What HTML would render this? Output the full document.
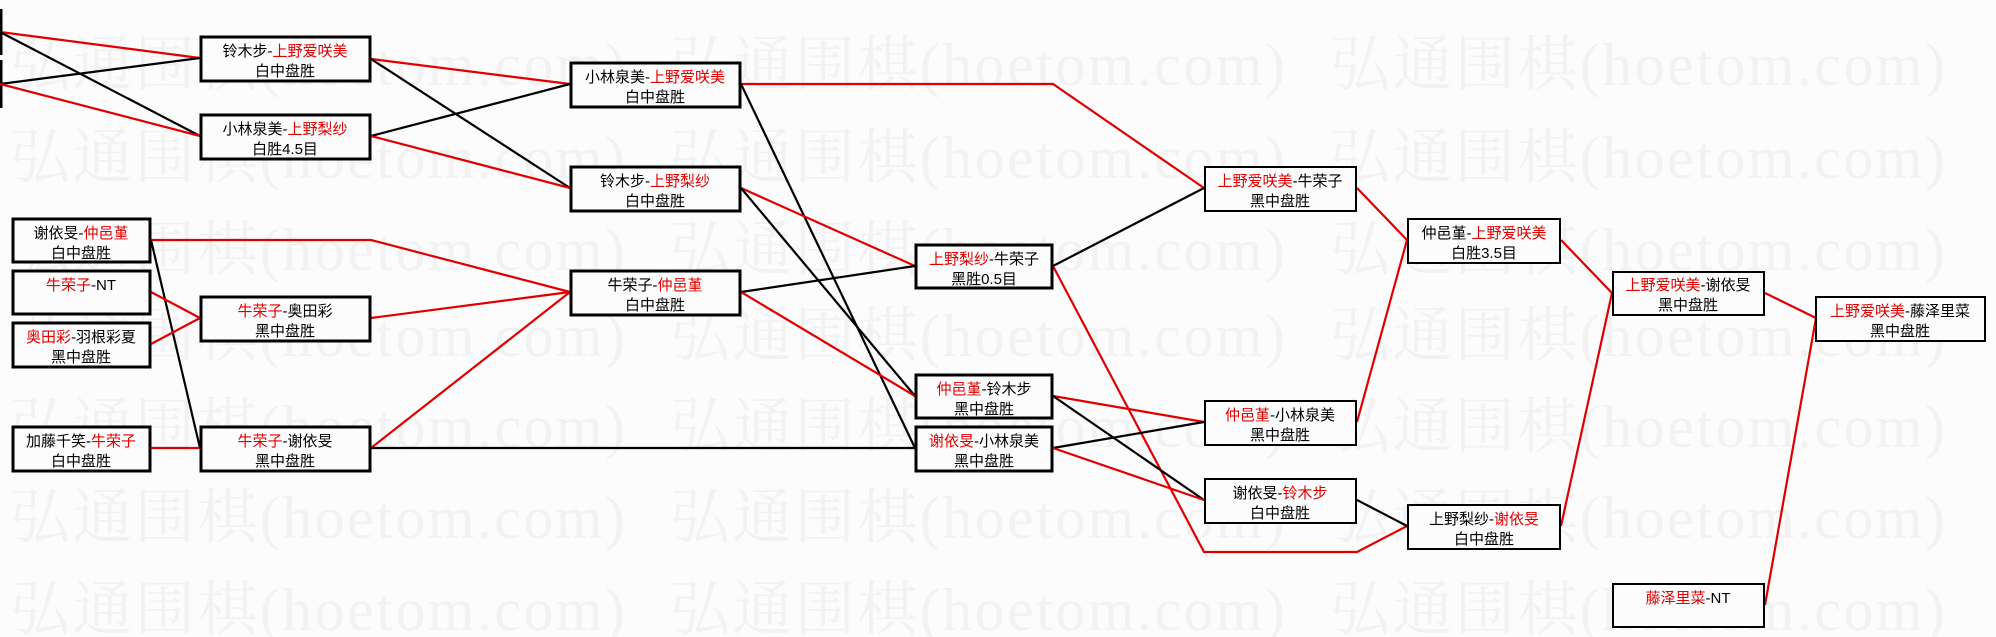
<!DOCTYPE html>
<html><head><meta charset="utf-8"><style>
html,body{margin:0;padding:0;background:#fcfcfc;}
svg{display:block;}
.t{font-family:"Liberation Sans","Noto Sans CJK SC",sans-serif;font-size:15px;fill:#000;text-anchor:middle;}
.r{fill:#e00000;}
.w{font-family:"Liberation Serif","Noto Serif CJK SC",serif;font-size:60px;fill:#f2f2f2;}
</style></head><body>
<svg width="1996" height="637" viewBox="0 0 1996 637" xmlns="http://www.w3.org/2000/svg">
<rect width="1996" height="637" fill="#fcfcfc"/>
<g class="w">
<text x="10" y="85" textLength="615">弘通围棋(hoetom.com)</text><text x="670" y="85" textLength="615">弘通围棋(hoetom.com)</text><text x="1330" y="85" textLength="615">弘通围棋(hoetom.com)</text>
<text x="10" y="178" textLength="615">弘通围棋(hoetom.com)</text><text x="670" y="178" textLength="615">弘通围棋(hoetom.com)</text><text x="1330" y="178" textLength="615">弘通围棋(hoetom.com)</text>
<text x="10" y="270" textLength="615">弘通围棋(hoetom.com)</text><text x="670" y="270" textLength="615">弘通围棋(hoetom.com)</text><text x="1330" y="270" textLength="615">弘通围棋(hoetom.com)</text>
<text x="10" y="356" textLength="615">弘通围棋(hoetom.com)</text><text x="670" y="356" textLength="615">弘通围棋(hoetom.com)</text><text x="1330" y="356" textLength="615">弘通围棋(hoetom.com)</text>
<text x="10" y="447" textLength="615">弘通围棋(hoetom.com)</text><text x="670" y="447" textLength="615">弘通围棋(hoetom.com)</text><text x="1330" y="447" textLength="615">弘通围棋(hoetom.com)</text>
<text x="10" y="538" textLength="615">弘通围棋(hoetom.com)</text><text x="670" y="538" textLength="615">弘通围棋(hoetom.com)</text><text x="1330" y="538" textLength="615">弘通围棋(hoetom.com)</text>
<text x="10" y="630" textLength="615">弘通围棋(hoetom.com)</text><text x="670" y="630" textLength="615">弘通围棋(hoetom.com)</text><text x="1330" y="630" textLength="615">弘通围棋(hoetom.com)</text>
</g>
<g fill="none" stroke-width="2.2">
<line x1="1" y1="9" x2="1" y2="55" stroke="#000" stroke-width="3"/>
<line x1="1" y1="60" x2="1" y2="108" stroke="#000" stroke-width="3"/>
<line x1="0" y1="32" x2="200" y2="58" stroke="#e00000"/>
<line x1="0" y1="32" x2="200" y2="136" stroke="#000"/>
<line x1="0" y1="84" x2="200" y2="58" stroke="#000"/>
<line x1="0" y1="84" x2="200" y2="136" stroke="#e00000"/>
<line x1="371" y1="59" x2="570" y2="84" stroke="#e00000"/>
<line x1="371" y1="59" x2="570" y2="188" stroke="#000"/>
<line x1="371" y1="136" x2="570" y2="84" stroke="#000"/>
<line x1="371" y1="136" x2="570" y2="188" stroke="#e00000"/>
<polyline points="151,240 371,240 570,292" stroke="#e00000"/>
<line x1="151" y1="240" x2="200" y2="448" stroke="#000"/>
<line x1="151" y1="292" x2="200" y2="318" stroke="#e00000"/>
<line x1="151" y1="344" x2="200" y2="318" stroke="#e00000"/>
<line x1="371" y1="318" x2="570" y2="292" stroke="#e00000"/>
<line x1="151" y1="448" x2="200" y2="448" stroke="#e00000"/>
<line x1="371" y1="448" x2="570" y2="292" stroke="#e00000"/>
<line x1="371" y1="448" x2="915" y2="448" stroke="#000"/>
<polyline points="741,84 1053,84 1204,188" stroke="#e00000"/>
<line x1="741" y1="84" x2="915" y2="448" stroke="#000"/>
<line x1="741" y1="188" x2="915" y2="266" stroke="#e00000"/>
<line x1="741" y1="188" x2="915" y2="396" stroke="#000"/>
<line x1="741" y1="292" x2="915" y2="266" stroke="#000"/>
<line x1="741" y1="292" x2="915" y2="396" stroke="#e00000"/>
<line x1="1053" y1="266" x2="1204" y2="188" stroke="#000"/>
<polyline points="1053,266 1204,552 1357,552 1407,526" stroke="#e00000"/>
<line x1="1053" y1="396" x2="1204" y2="422" stroke="#e00000"/>
<line x1="1053" y1="396" x2="1204" y2="500" stroke="#000"/>
<line x1="1053" y1="448" x2="1204" y2="422" stroke="#000"/>
<line x1="1053" y1="448" x2="1204" y2="500" stroke="#e00000"/>
<line x1="1357" y1="188" x2="1407" y2="240" stroke="#e00000"/>
<line x1="1357" y1="422" x2="1407" y2="240" stroke="#e00000"/>
<line x1="1357" y1="500" x2="1407" y2="526" stroke="#000"/>
<line x1="1561" y1="240" x2="1612" y2="293" stroke="#e00000"/>
<line x1="1561" y1="526" x2="1612" y2="293" stroke="#e00000"/>
<line x1="1765" y1="293" x2="1816" y2="318" stroke="#e00000"/>
<line x1="1765" y1="605" x2="1816" y2="318" stroke="#e00000"/>
</g>
<g fill="#fcfcfc" stroke="#000" stroke-width="3">
<rect x="201" y="37" width="169" height="44"/>
<rect x="201" y="115" width="169" height="44"/>
<rect x="571" y="63" width="169" height="44"/>
<rect x="571" y="167" width="169" height="44"/>
<rect x="13" y="219" width="137" height="43"/>
<rect x="13" y="271" width="137" height="43"/>
<rect x="571" y="271" width="169" height="44"/>
<rect x="201" y="297" width="169" height="44"/>
<rect x="13" y="323" width="137" height="44"/>
<rect x="13" y="427" width="137" height="44"/>
<rect x="201" y="427" width="169" height="44"/>
<rect x="916" y="245" width="136" height="43"/>
<rect x="916" y="375" width="136" height="43"/>
<rect x="916" y="427" width="136" height="44"/>
</g>
<g fill="#fcfcfc" stroke="#000" stroke-width="2">
<rect x="1205" y="167" width="151" height="44"/>
<rect x="1205" y="401" width="151" height="44"/>
<rect x="1205" y="479" width="151" height="44"/>
<rect x="1408" y="219" width="152" height="44"/>
<rect x="1408" y="505" width="152" height="44"/>
<rect x="1613" y="272" width="151" height="43"/>
<rect x="1816" y="297" width="169" height="44"/>
<rect x="1613" y="584" width="151" height="43"/>
</g>
<g class="t">
<text x="285" y="56">铃木步-<tspan class="r">上野爱咲美</tspan></text><text x="285" y="76">白中盘胜</text>
<text x="285" y="134">小林泉美-<tspan class="r">上野梨纱</tspan></text><text x="285" y="154">白胜4.5目</text>
<text x="655" y="82">小林泉美-<tspan class="r">上野爱咲美</tspan></text><text x="655" y="102">白中盘胜</text>
<text x="655" y="186">铃木步-<tspan class="r">上野梨纱</tspan></text><text x="655" y="206">白中盘胜</text>
<text x="81" y="238">谢依旻-<tspan class="r">仲邑堇</tspan></text><text x="81" y="258">白中盘胜</text>
<text x="81" y="290"><tspan class="r">牛荣子</tspan>-NT</text>
<text x="655" y="290">牛荣子-<tspan class="r">仲邑堇</tspan></text><text x="655" y="310">白中盘胜</text>
<text x="285" y="316"><tspan class="r">牛荣子</tspan>-奥田彩</text><text x="285" y="336">黑中盘胜</text>
<text x="81" y="342"><tspan class="r">奥田彩</tspan>-羽根彩夏</text><text x="81" y="362">黑中盘胜</text>
<text x="81" y="446">加藤千笑-<tspan class="r">牛荣子</tspan></text><text x="81" y="466">白中盘胜</text>
<text x="285" y="446"><tspan class="r">牛荣子</tspan>-谢依旻</text><text x="285" y="466">黑中盘胜</text>
<text x="984" y="264"><tspan class="r">上野梨纱</tspan>-牛荣子</text><text x="984" y="284">黑胜0.5目</text>
<text x="984" y="394"><tspan class="r">仲邑堇</tspan>-铃木步</text><text x="984" y="414">黑中盘胜</text>
<text x="984" y="446"><tspan class="r">谢依旻</tspan>-小林泉美</text><text x="984" y="466">黑中盘胜</text>
<text x="1280" y="186"><tspan class="r">上野爱咲美</tspan>-牛荣子</text><text x="1280" y="206">黑中盘胜</text>
<text x="1280" y="420"><tspan class="r">仲邑堇</tspan>-小林泉美</text><text x="1280" y="440">黑中盘胜</text>
<text x="1280" y="498">谢依旻-<tspan class="r">铃木步</tspan></text><text x="1280" y="518">白中盘胜</text>
<text x="1484" y="238">仲邑堇-<tspan class="r">上野爱咲美</tspan></text><text x="1484" y="258">白胜3.5目</text>
<text x="1484" y="524">上野梨纱-<tspan class="r">谢依旻</tspan></text><text x="1484" y="544">白中盘胜</text>
<text x="1688" y="290"><tspan class="r">上野爱咲美</tspan>-谢依旻</text><text x="1688" y="310">黑中盘胜</text>
<text x="1900" y="316"><tspan class="r">上野爱咲美</tspan>-藤泽里菜</text><text x="1900" y="336">黑中盘胜</text>
<text x="1688" y="603"><tspan class="r">藤泽里菜</tspan>-NT</text>
</g>
</svg>
</body></html>
